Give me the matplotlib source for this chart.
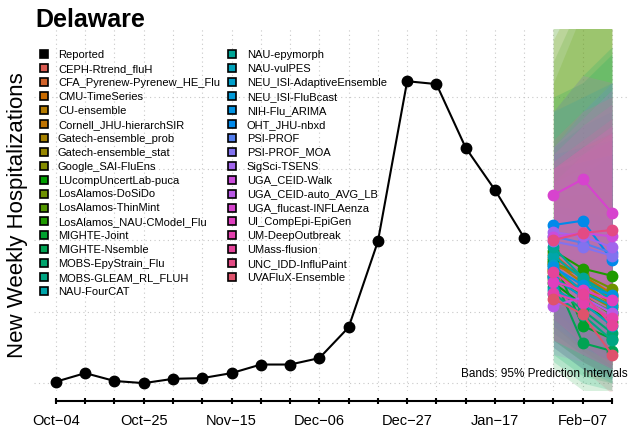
import numpy as np
import matplotlib
matplotlib.use('Agg')
import matplotlib.pyplot as plt
from matplotlib.lines import Line2D

plt.rcParams['font.family'] = ['Liberation Sans', 'DejaVu Sans']

# weekly reported counts (Oct-04 ... Jan-24)
reported = [2, 14, 3, 0, 6, 7, 14, 26, 26, 35, 78, 198, 422, 418, 329, 270, 203]
tick_labels = ['Oct\u221204', 'Oct\u221211', 'Oct\u221218', 'Oct\u221225', 'Nov\u221201', 'Nov\u221208',
               'Nov\u221215', 'Nov\u221222', 'Nov\u221229', 'Dec\u221206', 'Dec\u221213', 'Dec\u221220',
               'Dec\u221227', 'Jan\u221203', 'Jan\u221210', 'Jan\u221217', 'Jan\u221224', 'Jan\u221231',
               'Feb\u221207', 'Feb\u221214']

models = ['CEPH-Rtrend_fluH', 'CFA_Pyrenew-Pyrenew_HE_Flu', 'CMU-TimeSeries', 'CU-ensemble',
          'Cornell_JHU-hierarchSIR', 'Gatech-ensemble_prob', 'Gatech-ensemble_stat', 'Google_SAI-FluEns',
          'LUcompUncertLab-puca', 'LosAlamos-DoSiDo', 'LosAlamos-ThinMint', 'LosAlamos_NAU-CModel_Flu',
          'MIGHTE-Joint', 'MIGHTE-Nsemble', 'MOBS-EpyStrain_Flu', 'MOBS-GLEAM_RL_FLUH', 'NAU-FourCAT',
          'NAU-epymorph', 'NAU-vulPES', 'NEU_ISI-AdaptiveEnsemble', 'NEU_ISI-FluBcast', 'NIH-Flu_ARIMA',
          'OHT_JHU-nbxd', 'PSI-PROF', 'PSI-PROF_MOA', 'SigSci-TSENS', 'UGA_CEID-Walk',
          'UGA_CEID-auto_AVG_LB', 'UGA_flucast-INFLAenza', 'UI_CompEpi-EpiGen', 'UM-DeepOutbreak',
          'UMass-flusion', 'UNC_IDD-InfluPaint', 'UVAFluX-Ensemble']

# forecasts for Jan-31, Feb-07, Feb-14 (median, 2.5%, 97.5%)
med = [[160, 125, 95], [175, 150, 120], [180, 145, 118], [170, 140, 110], [165, 150, 125],
       [150, 120, 100], [155, 128, 105], [158, 130, 108], [140, 110, 85], [168, 152, 132],
       [145, 122, 96], [185, 160, 150], [172, 80, 62], [150, 56, 45], [135, 102, 70],
       [125, 95, 60], [178, 145, 115], [190, 147, 122], [130, 112, 80], [165, 127, 108],
       [148, 120, 99], [162, 137, 123], [221, 227, 172], [205, 196, 182], [198, 190, 178],
       [211, 205, 190], [204, 210, 205], [108, 120, 98], [263, 285, 238], [142, 130, 116],
       [126, 112, 91], [155, 125, 81], [200, 210, 214], [118, 96, 40]]
lo = [[95, 60, 35], [120, 85, 55], [110, 70, 40], [100, 65, 35], [105, 75, 50],
      [80, 45, 20], [90, 55, 25], [60, 30, 5], [20, -10, -20], [70, 40, 20],
      [60, 30, 10], [90, 60, 40], [40, 10, 0], [30, 0, -10], [60, 30, 10],
      [50, 20, 0], [70, 40, 20], [90, 50, 30], [50, 20, 5], [100, 70, 45],
      [90, 60, 40], [80, 50, 30], [120, 100, 60], [130, 110, 90], [120, 100, 80],
      [140, 120, 100], [120, 100, 90], [40, 30, 10], [180, 170, 120], [60, 40, 20],
      [60, 40, 20], [90, 55, 25], [110, 100, 80], [50, 20, -15]]
hi = [[240, 230, 225], [250, 270, 280], [270, 260, 255], [260, 265, 270], [250, 290, 320],
      [300, 320, 340], [290, 300, 320], [520, 600, 680], [560, 650, 700], [480, 560, 620],
      [420, 520, 600], [450, 540, 600], [400, 420, 460], [380, 430, 470], [330, 360, 380],
      [300, 330, 350], [320, 330, 340], [380, 400, 420], [300, 310, 320], [250, 240, 230],
      [240, 230, 220], [280, 300, 320], [330, 380, 420], [300, 320, 340], [300, 330, 350],
      [300, 330, 360], [330, 370, 410], [280, 320, 350], [380, 430, 420], [320, 360, 390],
      [300, 330, 360], [310, 340, 370], [340, 380, 400], [300, 330, 350]]


def hcl(h, c, l):
    # polar Luv -> sRGB
    hr = np.deg2rad(h)
    u, v = c*np.cos(hr), c*np.sin(hr)
    Y = ((l+16)/116)**3
    un, vn = 0.1978398, 0.4683363
    up, vp = u/(13*l)+un, v/(13*l)+vn
    X = Y*9*up/(4*vp)
    Z = Y*(12-3*up-20*vp)/(4*vp)
    M = np.array([[3.2404542, -1.5371385, -0.4985314],
                  [-0.9692660, 1.8760108, 0.0415560],
                  [0.0556434, -0.2040259, 1.0572252]])
    rgb = M @ np.array([X, Y, Z])
    rgb = np.where(rgb <= 0.0031308, 12.92*rgb, 1.055*np.abs(rgb)**(1/2.4)-0.055)
    return tuple(np.clip(rgb, 0, 1))


order = sorted(models, key=str.lower)
hues = np.linspace(15, 375, len(models)+1)[:-1]
colors = {m: hcl(hues[order.index(m)], 100, 55) for m in models}
band_colors = {m: hcl(hues[order.index(m)], 80, 60) for m in models}

fig = plt.figure(figsize=(6.29, 4.32), dpi=100)
ax = fig.add_axes([34/629, 1-391/432, 595/629, 362/432])

weeks = np.arange(len(tick_labels))
fx = weeks[-3:]

for x in weeks:
    ax.axvline(x, color='#c8c8c8', lw=0.8, ls=(0, (1, 3)), zorder=0)
for y in range(0, 600, 100):
    ax.axhline(y, color='#c8c8c8', lw=0.8, ls=(0, (1, 3)), zorder=0)

for i, m in enumerate(models):
    ax.fill_between(fx, lo[i], hi[i], color=band_colors[m], alpha=0.17, lw=0, zorder=1)

ax.plot(weeks[:len(reported)], reported, color='k', lw=1.5, marker='o', ms=7.5, zorder=3)

for i, m in enumerate(models):
    ax.plot(fx, med[i], color=colors[m], lw=1.5, marker='o', ms=7.5, zorder=4)

ax.set_xlim(-0.75, 19.58)
ax.set_ylim(-11, 495)
ax.set_yticks([])
for s in ['top', 'right', 'left']:
    ax.spines[s].set_visible(False)
ax.spines['bottom'].set_position(('outward', 7))
ax.spines['bottom'].set_bounds(0, 19)
ax.spines['bottom'].set_linewidth(1.5)
ax.set_xticks(weeks)
ax.set_xticklabels([t if k % 3 == 0 else '' for k, t in enumerate(tick_labels)], fontsize=10.5)
ax.tick_params(axis='x', direction='inout', length=5, width=1.5, pad=7)

ax.text(0.997, 14/362, 'Bands: 95% Prediction Intervals', transform=ax.transAxes,
        ha='right', va='baseline', fontsize=8.5)

fig.text(35/629, 1-27/432, 'Delaware', fontsize=18, weight='bold', va='baseline')
fig.text(18/629, 1-215/432, 'New Weekly Hospitalizations', fontsize=16, rotation=90,
         ha='center', va='center')

handles = [Line2D([], [], ls='', marker='s', ms=6, mfc='k', mec='k', mew=1.2)]
labels = ['Reported']
for m in models:
    handles.append(Line2D([], [], ls='', marker='s', ms=6, mfc=colors[m], mec='k', mew=1.2))
    labels.append(m)
fig.legend(handles, labels, ncol=2, loc='upper left', bbox_to_anchor=(38/629, 1-50/432),
           frameon=False, fontsize=8, handlelength=1.0, handletextpad=0.8,
           labelspacing=0.355, columnspacing=0.6, borderpad=0, borderaxespad=0)

fig.savefig('out.png', dpi=100)
